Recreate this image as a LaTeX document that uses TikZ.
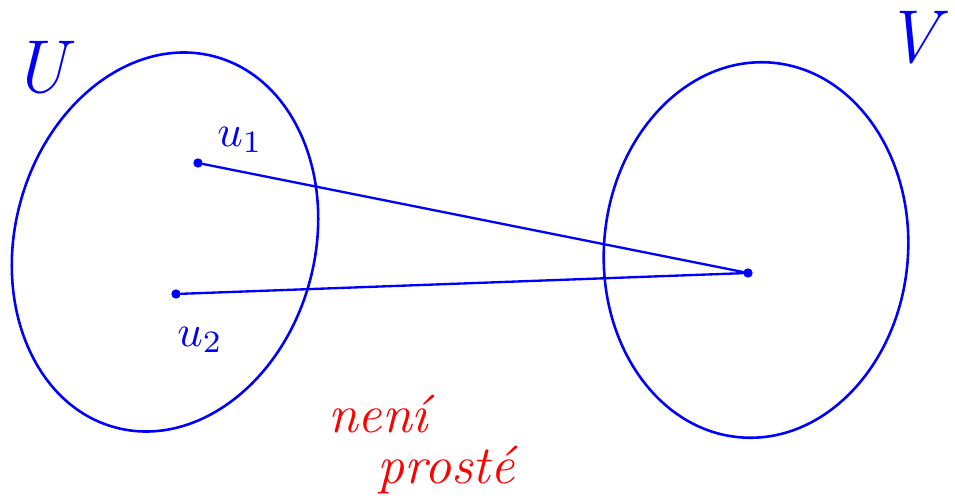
\documentclass[tikz,border=0pt]{standalone}
\usepackage{graphicx}
\usepackage{tikz}
\usetikzlibrary{positioning,calc}
\definecolor{PenBlue}{RGB}{0,0,255}
\definecolor{PenRed}{RGB}{255,0,0}
\newcommand{\biglabel}[1]{\scalebox{3.8}{$#1$}}
\begin{document}
\begin{tikzpicture}[
    x=0.03cm,y=0.03cm,
    setline/.style={draw=PenBlue,line width=2.2pt},
    mapline/.style={draw=PenBlue,line width=2pt,line cap=round},
    pt/.style={circle,fill=PenBlue,inner sep=0pt,minimum size=8pt},
    setlabel/.style={text=PenBlue,font=\fontsize{64}{70}\selectfont\itshape},
    ptlabel/.style={text=PenBlue},
    note/.style={text=PenRed,font=\fontsize{46}{52}\selectfont\itshape}
  ]
    \useasboundingbox (0,0) rectangle (955,500);

    \draw[setline,rotate around={-15:(165,258)}] (165,258) ellipse (150 and 192);
    \draw[setline,rotate around={-5:(756,250)}] (756,250) ellipse (152 and 188);

    \node[setlabel] (U) at (40,432) {U};
    \node[setlabel] (V) at (912,462) {V};

    \node[pt] (u1) at (198,337) {};
    \node[pt] (u2) at (176,206) {};
    \node[pt] (v) at (748,227) {};

    \node[ptlabel] (lu1) at (240,360) {\biglabel{u_1}};
    \node[ptlabel] (lu2) at (200,160) {\biglabel{u_2}};

    \draw[mapline] (u1) -- (v);
    \draw[mapline] (u2) -- (v);

    \node[note] (nenl) at (378,86) {nen\'i};
    \node[note] (prost) at (446,30) {prost\'e};
  \end{tikzpicture}
\end{document}
